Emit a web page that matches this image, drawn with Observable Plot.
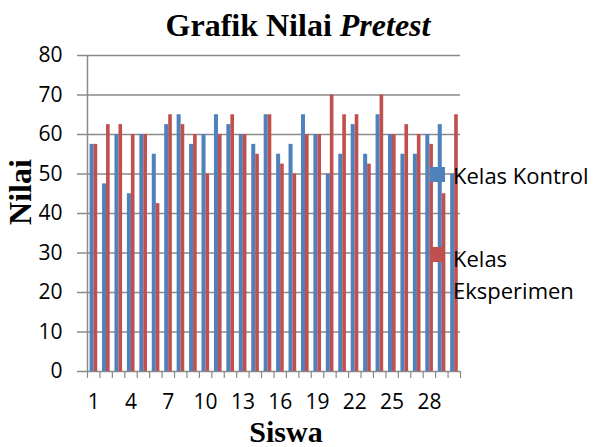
<!DOCTYPE html>
<html><head><meta charset="utf-8">
<script src="https://cdn.jsdelivr.net/npm/d3@7"></script>
<script src="https://cdn.jsdelivr.net/npm/@observablehq/plot@0.6"></script>
<style>
body{margin:0;background:#fff}
#wrap{position:relative;width:596px;height:447px;overflow:hidden}
.t{position:absolute;white-space:nowrap;line-height:1;color:#000}
.serif{font-family:"Liberation Serif","Times New Roman",serif;font-weight:bold}
.sans{font-family:"Open Sans",sans-serif}
.sw{position:absolute;width:15px;height:15px}
</style></head><body>
<div id="wrap"></div>
<script>
const students = [1,2,3,4,5,6,7,8,9,10,11,12,13,14,15,16,17,18,19,20,21,22,23,24,25,26,27,28,29,30];
const kontrol = [57.5,47.5,60,45,60,55,62.5,65,57.5,60,65,62.5,60,57.5,65,55,57.5,65,60,50,55,62.5,55,65,60,55,55,60,62.5,50];
const eksperimen = [57.5,62.5,62.5,60,60,42.5,65,62.5,60,50,60,65,60,55,65,52.5,50,60,60,70,65,65,52.5,70,60,62.5,60,57.5,45,65];
const seriesNames = ["Kelas Kontrol","Kelas Eksperimen"];
const colors = ["#4F81BD","#C0504D"];
const yTicks = [0,10,20,30,40,50,60,70,80];
const xTickLabels = [1,4,7,10,13,16,19,22,25,28];

const data = students.flatMap((s,i)=>[
  {student:s, series:seriesNames[0], value:kontrol[i]},
  {student:s, series:seriesNames[1], value:eksperimen[i]}
]);
const bounds = students.map(s=>s-0.5).concat([students[students.length-1]+0.5]);
const grid = "#8a8a8a";

const chart = Plot.plot({
  width:596, height:447,
  marginTop:55, marginBottom:76, marginLeft:87, marginRight:136,
  style:{background:"transparent"},
  x:{type:"linear", domain:[0.5,30.5]},
  y:{domain:[0,80]},
  marks:[
    Plot.ruleY(yTicks, {stroke:grid, strokeWidth:1.5, insetLeft:-10}),
    Plot.rectY(data.filter(d=>d.series===seriesNames[0]), {x1:d=>d.student-0.5, x2:d=>d.student+0.5, y1:0, y2:"value", fill:colors[0], insetLeft:2.6, insetRight:5.8}),
    Plot.rectY(data.filter(d=>d.series===seriesNames[1]), {x1:d=>d.student-0.5, x2:d=>d.student+0.5, y1:0, y2:"value", fill:colors[1], insetLeft:6.6, insetRight:2.2}),
    Plot.ruleX([0.5], {y1:0, y2:80, stroke:grid, strokeWidth:1.5}),
    Plot.ruleX(bounds, {y1:0, y2:0, insetBottom:-7, stroke:grid, strokeWidth:1.2}),
    Plot.axisY({ticks:yTicks, tickSize:0, tickPadding:25, fontSize:21, label:null, fontFamily:"Open Sans"}),
    Plot.axisX({ticks:xTickLabels, tickSize:0, tickPadding:23, fontSize:21, label:null, fontFamily:"Open Sans", tickFormat:d=>String(d)})
  ]
});
const wrap = document.getElementById("wrap");
chart.style.color = "#000";
wrap.appendChild(chart);

function addText(html, cls, left, top, extra){
  const d = document.createElement("div");
  d.className = "t " + cls;
  d.innerHTML = html;
  d.style.left = left + "px"; d.style.top = top + "px";
  if (extra) Object.assign(d.style, extra);
  wrap.appendChild(d);
  return d;
}
// title
addText('Grafik Nilai <i>Pretest</i>', "serif", 298, 9, {fontSize:"32px", transform:"translateX(-50%)"});
// axis titles
addText('Siswa', "serif", 286, 421, {fontSize:"30px", lineHeight:"22px", transform:"translateX(-50%)"});
addText('Nilai', "serif", 20, 192, {fontSize:"32px", lineHeight:"26px", transform:"translate(-50%,-50%) rotate(-90deg)"});
// legend
seriesNames.forEach((n,i)=>{
  const sw = document.createElement("div");
  sw.className = "sw";
  sw.style.background = colors[i];
  sw.style.left = "430px";
  sw.style.top = (i===0 ? 167 : 247) + "px";
  wrap.appendChild(sw);
});
addText(seriesNames[0], "sans", 453, 162, {fontSize:"22px", lineHeight:"26px"});
addText('Kelas<br>Eksperimen', "sans", 453, 242, {fontSize:"22px", lineHeight:"32px"});
</script>
</body></html>
